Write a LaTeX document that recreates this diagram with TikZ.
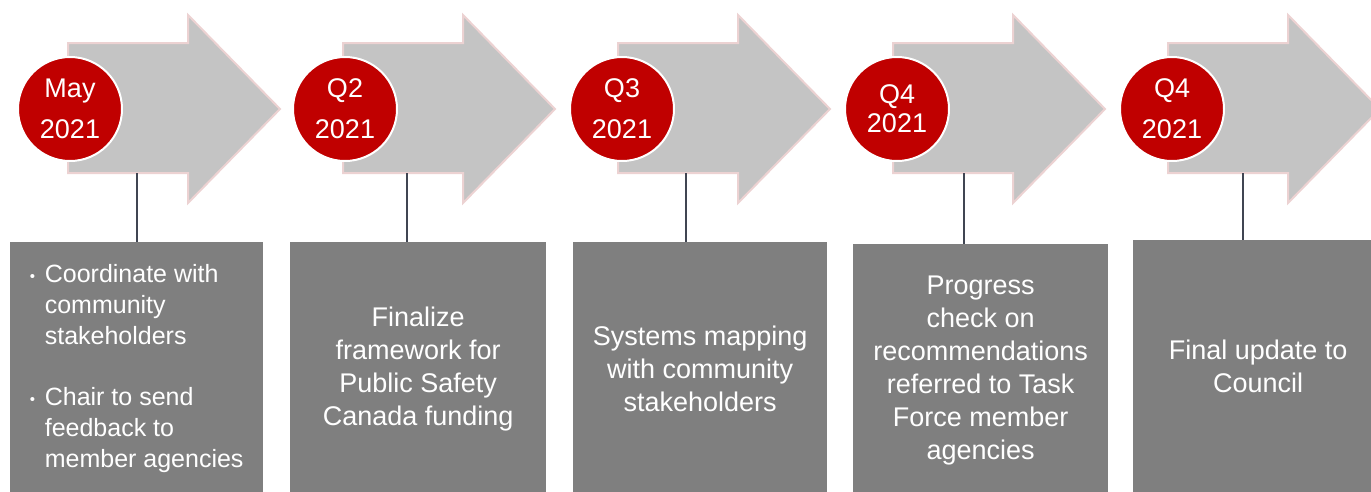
\documentclass[tikz,border=0pt]{standalone}
\usepackage{fontspec}
\setmainfont{Liberation Sans}
\usetikzlibrary{positioning}

\definecolor{datered}{HTML}{C00000}
\definecolor{arrowgray}{HTML}{C4C4C4}
\definecolor{arrowpink}{HTML}{ECD2D2}
\definecolor{boxgray}{HTML}{7F7F7F}
\definecolor{stemgray}{HTML}{404552}

\newcommand{\stepbullet}{\makebox[15pt][l]{\raisebox{1pt}{\fontsize{15}{15}\selectfont\textbullet}}}

\begin{document}
\begin{tikzpicture}[x=1pt, y=-1pt,
  datecirc/.style={circle, fill=datered, draw=white, line width=2pt,
    minimum size=104pt, inner sep=0pt, text=white, align=center,
    font=\fontsize{27}{41}\selectfont},
  stepbox/.style={rectangle, fill=boxgray, anchor=north west,
    minimum height=253pt, inner sep=0pt, text=white, align=center,
    font=\fontsize{27}{33}\selectfont},
  stem/.style={draw=stemgray, line width=2.5pt},
  bigarrow/.style={fill=arrowgray, draw=arrowpink, line width=2pt}]
\useasboundingbox (0,0) rectangle (1371,491);
\clip (0,0) rectangle (1371,491);

% timeline arrows
\foreach \l in {68,343,618,893,1168}
  \draw[bigarrow] (\l,43) -- (\l+120,43) -- (\l+120,15) -- (\l+212,109)
    -- (\l+120,203) -- (\l+120,173) -- (\l,173) -- cycle;

% dates
\node (d1) [datecirc] at (70,109) {May\\2021};
\node (d2) [datecirc] at (345,109) {Q2\\2021};
\node (d3) [datecirc] at (622,109) {Q3\\2021};
\node (d4) [datecirc, font=\fontsize{27}{29}\selectfont] at (897,109) {Q4\\2021};
\node (d5) [datecirc] at (1172,109) {Q4\\2021};

% steps
\node (b1) [stepbox, minimum width=253pt, align=left,
  font=\fontsize{25}{31}\selectfont] at (10,242)
  {\stepbullet Coordinate with\\ \hspace*{15pt}community\\ \hspace*{15pt}stakeholders\\[30pt]
   \stepbullet Chair to send\\ \hspace*{15pt}feedback to\\ \hspace*{15pt}member agencies};
\node (b2) [stepbox, minimum width=256pt] at (290,242)
  {Finalize\\framework for\\Public Safety\\Canada funding};
\node (b3) [stepbox, minimum width=254pt] at (573,242)
  {Systems mapping\\with community\\stakeholders};
\node (b4) [stepbox, minimum width=255pt] at (853,244)
  {Progress\\check on\\recommendations\\referred to Task\\Force member\\agencies};
\node (b5) [stepbox, minimum width=250pt] at (1133,240)
  {Final update to\\Council};

% stems
\coordinate (t1) at (137,173);
\coordinate (t2) at (407,173);
\coordinate (t3) at (686,173);
\coordinate (t4) at (964,173);
\coordinate (t5) at (1243,173);
\draw[stem] (t1) -- (t1 |- b1.north);
\draw[stem] (t2) -- (t2 |- b2.north);
\draw[stem] (t3) -- (t3 |- b3.north);
\draw[stem] (t4) -- (t4 |- b4.north);
\draw[stem] (t5) -- (t5 |- b5.north);
\end{tikzpicture}
\end{document}
